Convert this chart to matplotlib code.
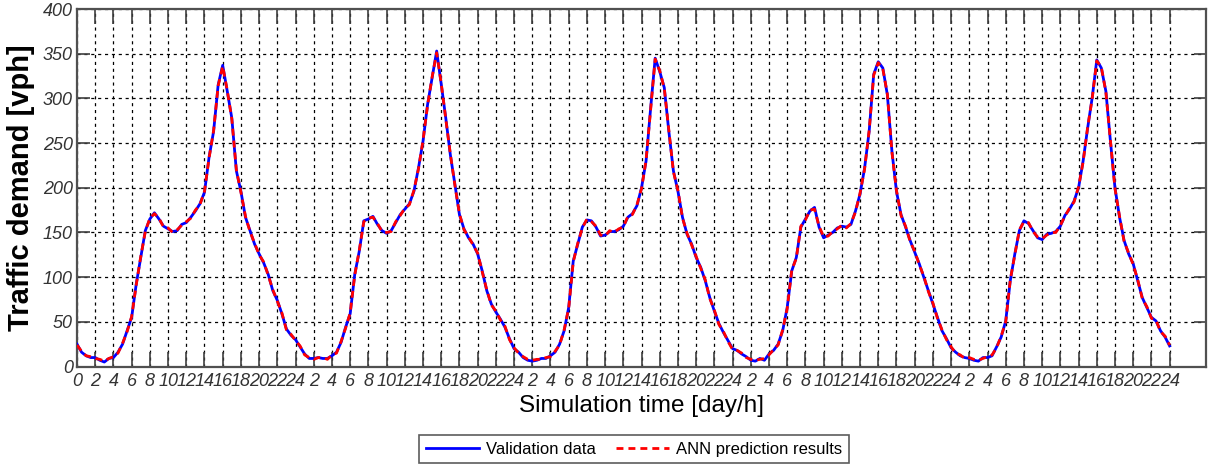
import numpy as np
import matplotlib
matplotlib.use("Agg")
import matplotlib.pyplot as plt

# ---- data (traffic demand in vph, half-hour samples, 5 days) ----
day1_val = [25, 16, 12, 10, 10, 7, 5, 9, 10, 16, 25, 40, 55, 92, 122, 152, 165, 172, 165, 157,
            154, 151, 152, 159, 161, 167, 174, 182, 195, 234, 263, 315, 337, 308, 278, 219, 196, 167, 152, 137,
            126, 116, 103, 85, 74, 59, 42, 35]
day2_val = [30, 22, 14, 9, 9, 10, 9, 9, 12, 16, 27, 44, 59, 103, 129, 163, 165, 168, 159, 152,
            149, 152, 161, 170, 176, 182, 196, 222, 252, 293, 323, 353, 316, 278, 237, 204, 170, 154, 144, 137,
            126, 107, 85, 70, 61, 53, 44, 31]
day3_val = [20, 16, 10, 7, 6, 7, 9, 9, 12, 16, 25, 40, 66, 118, 137, 156, 164, 163, 156, 146,
            147, 151, 151, 153, 157, 167, 171, 180, 200, 230, 289, 345, 330, 312, 263, 219, 196, 167, 148, 137,
            122, 111, 96, 77, 62, 48, 38, 29]
day4_val = [20, 18, 14, 11, 7, 6, 9, 7, 14, 18, 25, 40, 66, 107, 122, 156, 165, 174, 178, 156,
            144, 147, 150, 155, 157, 156, 159, 174, 193, 222, 263, 327, 341, 334, 304, 241, 196, 170, 156, 141,
            128, 115, 100, 85, 70, 55, 40, 31]
day5_val = [21, 16, 12, 10, 9, 7, 6, 10, 10, 12, 22, 33, 51, 96, 126, 152, 163, 160, 152, 144,
            142, 148, 149, 151, 157, 169, 176, 185, 200, 230, 267, 301, 343, 334, 308, 252, 200, 167, 141, 126,
            115, 96, 77, 66, 55, 51, 40, 33]
last_val = [23]

day1_ann = [24, 17, 12, 11, 9, 8, 6, 9, 11, 15, 26, 39, 56, 91, 123, 151, 166, 171, 166, 156,
            155, 150, 153, 158, 162, 166, 175, 181, 196, 233, 264, 314, 336, 309, 277, 220, 195, 168, 151, 138,
            125, 117, 102, 86, 73, 60, 41, 36]
day2_ann = [29, 23, 13, 10, 8, 10, 10, 8, 13, 15, 28, 43, 60, 102, 130, 162, 166, 167, 160, 151,
            150, 151, 162, 169, 177, 181, 197, 221, 253, 292, 324, 351, 317, 277, 238, 203, 171, 153, 145, 136,
            127, 106, 86, 69, 62, 52, 45, 30]
day3_ann = [21, 15, 11, 8, 7, 8, 8, 10, 11, 17, 24, 41, 65, 117, 138, 155, 165, 162, 157, 147,
            146, 152, 150, 154, 156, 168, 170, 181, 199, 231, 288, 344, 331, 311, 264, 218, 197, 166, 149, 136,
            123, 110, 97, 76, 63, 47, 39, 28]
day4_ann = [19, 18, 15, 10, 8, 7, 8, 9, 13, 19, 24, 41, 65, 108, 121, 157, 164, 175, 176, 157,
            145, 146, 151, 154, 158, 155, 160, 173, 194, 221, 264, 326, 340, 333, 305, 240, 197, 169, 157, 140,
            129, 114, 101, 84, 71, 54, 41, 30]
day5_ann = [22, 15, 13, 9, 10, 8, 7, 9, 11, 13, 21, 34, 50, 97, 125, 153, 162, 161, 151, 145,
            143, 147, 150, 150, 158, 168, 177, 184, 201, 229, 268, 300, 342, 335, 307, 253, 199, 168, 140, 127,
            114, 97, 76, 67, 54, 52, 39, 34]
last_ann = [24]

validation = day1_val + day2_val + day3_val + day4_val + day5_val + last_val
prediction = day1_ann + day2_ann + day3_ann + day4_ann + day5_ann + last_ann
hours = np.arange(len(validation)) * 0.5

day_tick_labels = ['2', '4', '6', '8', '10', '12', '14', '16', '18', '20', '22', '24']
x_tick_labels = ['0'] + day_tick_labels * 5
y_ticks = [0, 50, 100, 150, 200, 250, 300, 350, 400]

# ---- figure ----
plt.rcParams['font.family'] = ['Liberation Sans', 'DejaVu Sans']
fig = plt.figure(figsize=(12.11, 4.67), dpi=100)
ax = fig.add_axes([0.0636, 0.2152, 0.9323, 0.7655])

ax.plot(hours, validation, color='#0000FF', lw=2.0, solid_joinstyle='round',
        label='Validation data', zorder=3)
ax.plot(hours, prediction, color='#FF0000', lw=2.0, linestyle=(0, (2.5, 1.8)),
        label='ANN prediction results', zorder=4)

ax.set_xlim(0, 124)
ax.set_ylim(0, 400)
ax.set_xticks(np.arange(0, 121, 2))
ax.set_xticklabels(x_tick_labels)
ax.set_yticks(y_ticks)
ax.set_yticklabels([str(v) for v in y_ticks])

ax.grid(True, color='black', linestyle=(0, (2.5, 3)), linewidth=0.9)
ax.tick_params(axis='both', direction='in', top=True, right=True,
               color='#404040', width=1.2, labelsize=13, labelcolor='#333333')
ax.tick_params(axis='x', length=11, pad=5)
ax.tick_params(axis='y', length=9, pad=3)
for lab in ax.get_xticklabels() + ax.get_yticklabels():
    lab.set_fontstyle('italic')

for sp in ax.spines.values():
    sp.set_color('#505050')
    sp.set_linewidth(1.6)

ax.set_xlabel('Simulation time [day/h]', fontsize=17.5, labelpad=3)
ax.set_ylabel('Traffic demand [vph]', fontsize=21, fontweight='bold', labelpad=6)

leg = fig.legend(loc='center', bbox_to_anchor=(0.5235, 0.038), ncol=2,
                 fontsize=12, frameon=True, fancybox=False, handlelength=3.2,
                 columnspacing=1.2, handletextpad=0.4, borderpad=0.4)
leg.get_frame().set_edgecolor('#333333')
leg.get_frame().set_linewidth(1.2)

fig.savefig('out.png', dpi=100)
